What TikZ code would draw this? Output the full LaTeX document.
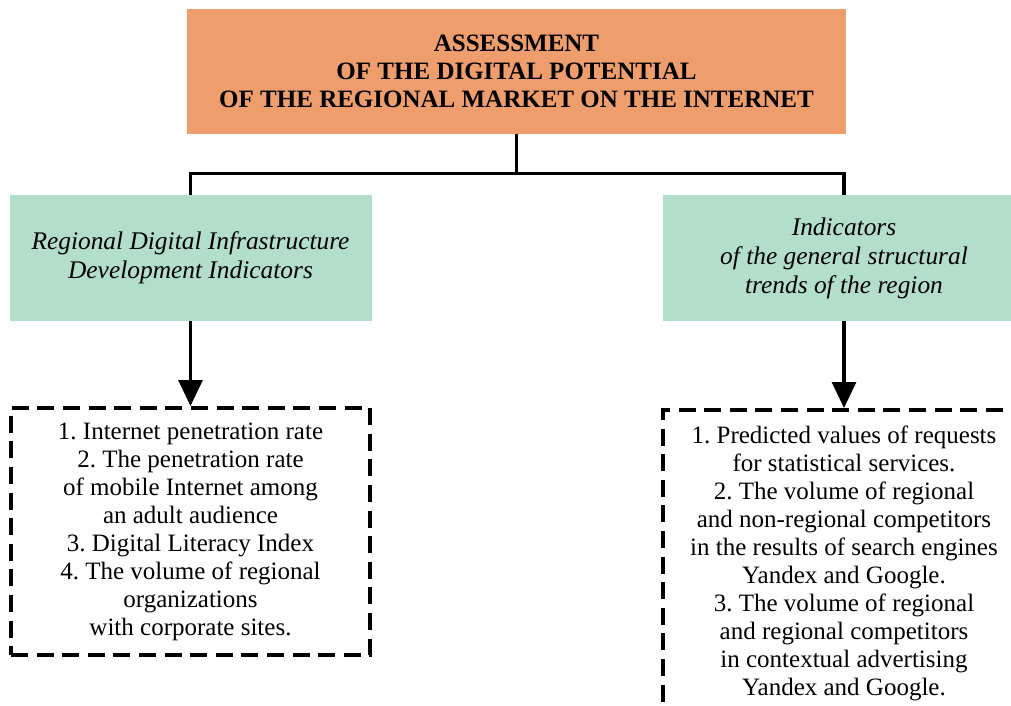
\documentclass[tikz,border=0pt]{standalone}
\usepackage{fontspec}
\setmainfont{Liberation Serif}
\usetikzlibrary{positioning}
\usetikzlibrary{arrows.meta}
\definecolor{headorange}{HTML}{EE9D6D}
\definecolor{indgreen}{HTML}{B3DECA}
\frenchspacing

\begin{document}
\begin{tikzpicture}[x=0.5pt, y=-0.5pt,
    H/.style={fill=headorange, minimum width=329.5pt, minimum height=62.5pt, align=center, font=\fontsize{12.5}{14}\selectfont\bfseries},
    G/.style={fill=indgreen, minimum width=181pt, minimum height=63pt, align=center, font=\fontsize{12.7}{14.5}\selectfont\itshape},
    L/.style={draw, line width=2pt, dash pattern=on 8.5pt off 4.3pt, align=center, font=\fontsize{12.5}{14}\selectfont},
    A/.style={-{Triangle[width=12pt,length=13pt]}, line width=1.6pt}]
    \useasboundingbox (0,0) rectangle (1011,706);
    \clip (0,0) rectangle (1011,706);
    \node[H] (top) at (516.5,71.5) {ASSESSMENT\\OF THE DIGITAL POTENTIAL\\OF THE REGIONAL MARKET ON THE INTERNET};
    \node[G] (lg) at (190.5,258) {Regional Digital Infrastructure\\Development Indicators};
    \node[G] (rg) at (844,258) {Indicators\\of the general structural\\trends of the region};
    \node[L, minimum width=179.5pt, minimum height=123.5pt] (ld) at (190.5,531.5) {1. Internet penetration rate\\2. The penetration rate\\of mobile Internet among\\an adult audience\\3. Digital Literacy Index\\4. The volume of regional\\organizations\\with corporate sites.};
    \node[L, anchor=north, minimum width=181pt, inner ysep=8pt] (rd) at (844,408) {1. Predicted values of requests\\for statistical services.\\2. The volume of regional\\and non-regional competitors\\in the results of search engines\\Yandex and Google.\\3. The volume of regional\\and regional competitors\\in contextual advertising\\Yandex and Google.};
    \draw[line width=1.6pt] (top.south) -- ++(0,39) coordinate (jn);
    \draw[line width=1.6pt] (lg.north) |- (jn) -| (rg.north);
    \draw[A] (lg) -- (ld);
    \draw[A] (rg) -- (rd);
\end{tikzpicture}
\end{document}
